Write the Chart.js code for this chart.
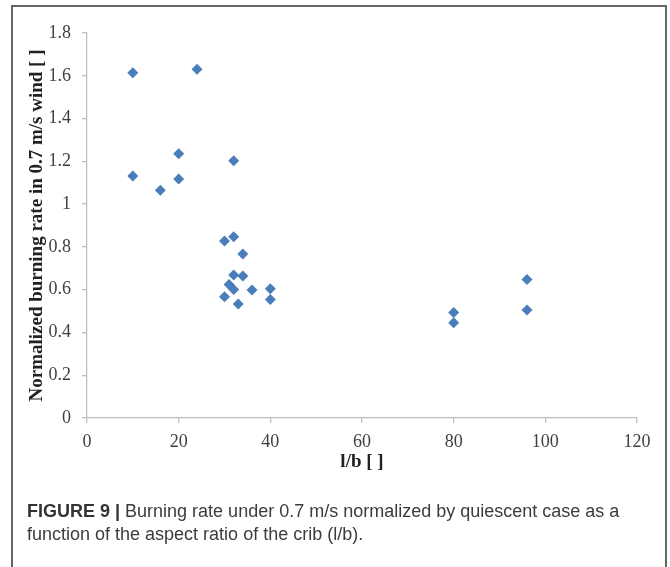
<!DOCTYPE html>
<html>
<head>
<meta charset="utf-8">
<script src="https://cdn.jsdelivr.net/npm/chart.js@4.4.1/dist/chart.umd.min.js"></script>
<style>
    html, body { margin: 0; padding: 0; background: #fff; }
    #wrap { position: relative; width: 670px; height: 567px; overflow: hidden; }
    #frame { position: absolute; left: 11px; top: 5px; width: 652px; height: 620px; border: 2px solid #666; }
    #chartBox { position: absolute; left: 0; top: 0; width: 670px; height: 567px; }
    #caption {
        position: absolute; left: 27px; top: 500px; width: 636px;
        font-family: 'Liberation Sans', Arial, sans-serif; font-size: 18px; line-height: 23px; color: #3c3c3c;
    }
    #caption b { color: #333; }
</style>
</head>
<body>
<div id="wrap">
    <div id="frame"></div>
    <div id="chartBox"><canvas id="scatterChart"></canvas></div>
    <div id="caption"><b>FIGURE 9 |</b> Burning rate under 0.7 m/s normalized by quiescent case as a<br>function of the aspect ratio of the crib (l/b).</div>
</div>
<script>
const aspectRatio = [10, 24, 10, 16, 20, 20, 32, 30, 32, 34, 32, 34, 31, 32, 36, 40, 30, 33, 40, 80, 80, 96, 96];
const burningRate = [1.614, 1.631, 1.132, 1.065, 1.236, 1.117, 1.203, 0.827, 0.847, 0.767, 0.668, 0.664, 0.624, 0.601, 0.599, 0.604, 0.567, 0.533, 0.554, 0.493, 0.445, 0.648, 0.505];

const X_MIN = 0, X_MAX = 120, X_STEP = 20;
const Y_MIN = 0, Y_MAX = 1.8, Y_STEP = 0.2;

const POINT_COLOR = '#4A7EBB';
const AXIS_COLOR = '#BFBFBF';
const TICK_FONT = { family: 'Liberation Serif', size: 18 };
const TITLE_FONT = { family: 'Liberation Serif', size: 19, weight: 'bold' };

const points = aspectRatio.map((x, i) => ({ x, y: burningRate[i] }));

new Chart(document.getElementById('scatterChart'), {
    type: 'scatter',
    data: {
        datasets: [{
            data: points,
            pointStyle: 'rectRot',
            pointRadius: 5.5,
            backgroundColor: POINT_COLOR,
            borderColor: POINT_COLOR,
            borderWidth: 0
        }]
    },
    options: {
        responsive: true,
        maintainAspectRatio: false,
        animation: false,
        layout: { padding: { left: 12, right: 33, top: 33, bottom: 89 } },
        plugins: { legend: { display: false }, tooltip: { enabled: false } },
        scales: {
            x: {
                type: 'linear', min: X_MIN, max: X_MAX,
                afterFit: scale => { scale.height = 60; },
                border: { color: AXIS_COLOR, width: 1.3 },
                grid: { drawOnChartArea: false, drawTicks: true, tickLength: 5, color: AXIS_COLOR, lineWidth: 1.3 },
                ticks: { stepSize: X_STEP, font: TICK_FONT, color: '#404040', padding: 8, maxRotation: 0 },
                title: { display: true, text: 'l/b [ ]', font: TITLE_FONT, color: '#222', padding: { top: 0, bottom: 5 } }
            },
            y: {
                type: 'linear', min: Y_MIN, max: Y_MAX,
                afterFit: scale => { scale.width = 75; },
                border: { color: AXIS_COLOR, width: 1.3 },
                grid: { drawOnChartArea: false, drawTicks: true, tickLength: 5, color: AXIS_COLOR, lineWidth: 1.3 },
                ticks: { stepSize: Y_STEP, font: TICK_FONT, color: '#404040', padding: 11, callback: v => String(+v.toFixed(1)) },
                title: { display: true, text: 'Normalized burning rate in 0.7 m/s wind [ ]', font: TITLE_FONT, color: '#222', padding: { top: 14, bottom: 0 } }
            }
        }
    }
});
</script>
</body>
</html>
